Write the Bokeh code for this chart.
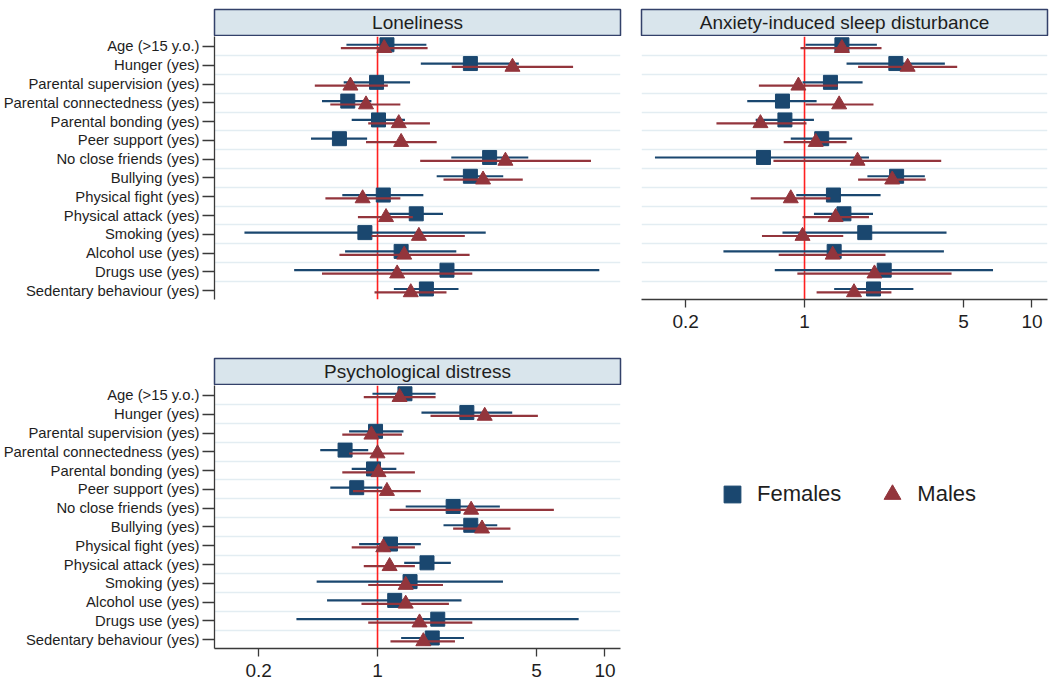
from bokeh.plotting import figure
from bokeh.models import (Range1d, FixedTicker, Span, Label, Legend, LegendItem,
                          ColumnDataSource)
from bokeh.layouts import column, row
from bokeh.embed import file_html
from bokeh.resources import INLINE

# ---------------- data ----------------
FACTORS = ["Age (>15 y.o.)", "Hunger (yes)", "Parental supervision (yes)",
           "Parental connectedness (yes)", "Parental bonding (yes)", "Peer support (yes)",
           "No close friends (yes)", "Bullying (yes)", "Physical fight (yes)",
           "Physical attack (yes)", "Smoking (yes)", "Alcohol use (yes)",
           "Drugs use (yes)", "Sedentary behaviour (yes)"]
SERIES = ["Females", "Males"]
PANELS = ["Loneliness", "Anxiety-induced sleep disturbance", "Psychological distress"]

# Loneliness
lon_f_or = [1.10, 2.56, 0.99, 0.74, 1.01, 0.68, 3.11, 2.56, 1.06, 1.48, 0.88, 1.27, 2.02, 1.64]
lon_f_lo = [0.73, 1.55, 0.71, 0.57, 0.77, 0.51, 2.11, 1.82, 0.70, 1.07, 0.26, 0.72, 0.43, 1.18]
lon_f_hi = [1.64, 4.18, 1.39, 0.94, 1.32, 0.90, 4.60, 3.57, 1.59, 1.94, 2.99, 2.22, 9.44, 2.27]
lon_m_or = [1.07, 3.92, 0.76, 0.89, 1.24, 1.27, 3.65, 2.91, 0.86, 1.09, 1.52, 1.31, 1.22, 1.40]
lon_m_lo = [0.69, 2.12, 0.53, 0.62, 0.91, 0.89, 1.54, 1.95, 0.59, 0.82, 0.94, 0.68, 0.57, 0.97]
lon_m_hi = [1.66, 7.24, 1.11, 1.26, 1.70, 1.82, 8.68, 4.35, 1.26, 1.43, 2.42, 2.54, 2.61, 2.01]

# Anxiety-induced sleep disturbance
anx_f_or = [1.46, 2.52, 1.30, 0.80, 0.82, 1.19, 0.66, 2.54, 1.34, 1.49, 1.84, 1.35, 2.24, 2.01]
anx_f_lo = [1.01, 1.53, 0.98, 0.56, 0.61, 0.87, 0.22, 1.89, 0.92, 1.10, 0.80, 0.44, 0.74, 1.35]
anx_f_hi = [2.08, 4.14, 1.80, 1.13, 1.10, 1.62, 1.92, 3.38, 2.16, 2.00, 4.21, 4.10, 6.74, 3.01]
anx_m_or = [1.46, 2.84, 0.94, 1.42, 0.64, 1.12, 1.71, 2.43, 0.87, 1.37, 0.98, 1.33, 2.03, 1.65]
anx_m_lo = [0.96, 1.72, 0.63, 1.01, 0.41, 0.81, 0.73, 1.72, 0.58, 0.98, 0.65, 0.77, 0.93, 1.13]
anx_m_hi = [2.18, 4.69, 1.40, 2.01, 1.02, 1.53, 3.99, 3.41, 1.30, 1.92, 1.48, 2.27, 4.43, 2.41]

# Psychological distress
psy_f_or = [1.32, 2.47, 0.98, 0.72, 0.96, 0.81, 2.15, 2.57, 1.14, 1.65, 1.39, 1.19, 1.84, 1.74]
psy_f_lo = [0.95, 1.56, 0.75, 0.56, 0.77, 0.62, 1.33, 1.95, 0.83, 1.31, 0.54, 0.60, 0.44, 1.27]
psy_f_hi = [1.80, 3.91, 1.30, 0.91, 1.21, 1.05, 3.45, 3.36, 1.55, 2.10, 3.56, 2.34, 7.66, 2.40]
psy_m_or = [1.25, 2.96, 0.94, 1.00, 1.01, 1.10, 2.58, 2.88, 1.06, 1.13, 1.33, 1.33, 1.53, 1.59]
psy_m_lo = [0.87, 1.71, 0.70, 0.75, 0.70, 0.78, 1.13, 2.15, 0.77, 0.87, 0.91, 0.85, 0.91, 1.14]
psy_m_hi = [1.80, 5.07, 1.28, 1.31, 1.46, 1.55, 5.96, 3.84, 1.46, 1.46, 1.94, 2.06, 2.61, 2.19]

TICK_POS = [0.3, 1.0, 5.0, 10.0]
TICK_LABELS = ["0.2", "1", "5", "10"]

# ---------------- style ----------------
FONT = "Liberation Sans"
NAVY = "#1a476f"
MAROON = "#93353c"
REDLINE = "#ff2020"
GRID = "#e3edf2"
HEAD_FILL = "#d9e5ec"
HEAD_LINE = "#33416a"
AXIS = "#3a3a3a"
TEXT = "#1e1e1e"
XMIN, XMAX = 0.192, 11.7
F_OFF, M_OFF = -0.09, 0.09


def header(title, width, left, right, top):
    h = figure(width=width, height=26 + top + 1, x_range=Range1d(0, 1), y_range=Range1d(0, 1),
               x_axis_type=None, y_axis_type=None, toolbar_location=None,
               output_backend="svg", min_border_left=left, min_border_right=right,
               min_border_top=top, min_border_bottom=1)
    h.background_fill_color = HEAD_FILL
    h.border_fill_color = "white"
    h.outline_line_color = HEAD_LINE
    h.outline_line_width = 1.5
    h.add_layout(Label(x=0.5, y=0.5, text=title, text_align="center",
                       text_baseline="middle", text_font=FONT,
                       text_font_size="19px", text_color=TEXT))
    return h


def panel(data, width, height, left, right, bottom, show_y, show_x):
    f_or, f_lo, f_hi, m_or, m_lo, m_hi = data
    rows = list(range(len(FACTORS)))
    src = ColumnDataSource(dict(
        yf=[r + F_OFF for r in rows], ym=[r + M_OFF for r in rows],
        f=f_or, flo=f_lo, fhi=f_hi, m=m_or, mlo=m_lo, mhi=m_hi))
    p = figure(width=width, height=height, x_axis_type="log",
               x_range=Range1d(XMIN, XMAX),
               y_range=Range1d(len(FACTORS) - 0.53, -0.53),
               toolbar_location=None, output_backend="svg",
               min_border_left=left, min_border_right=right,
               min_border_top=0, min_border_bottom=bottom)
    p.outline_line_color = None
    p.background_fill_color = "white"
    p.border_fill_color = "white"
    p.xgrid.visible = False
    p.ygrid.ticker = FixedTicker(ticks=[r + 0.5 for r in rows[:-1]])
    p.ygrid.grid_line_color = GRID
    p.ygrid.grid_line_width = 1.6

    p.add_layout(Span(location=1, dimension="height", line_color=REDLINE,
                      line_width=1.6, level="underlay"))

    p.segment(x0="flo", y0="yf", x1="fhi", y1="yf", source=src,
              line_color=NAVY, line_width=2.2)
    p.scatter("f", "yf", marker="square", size=14, fill_color=NAVY,
              line_color=NAVY, source=src)
    p.segment(x0="mlo", y0="ym", x1="mhi", y1="ym", source=src,
              line_color=MAROON, line_width=2.2)
    p.scatter("m", "ym", marker="triangle", size=15, fill_color=MAROON,
              line_color=MAROON, source=src)

    # y axis
    ya = p.yaxis[0]
    ya.ticker = FixedTicker(ticks=rows)
    ya.major_label_overrides = {r: lab for r, lab in zip(rows, FACTORS)}
    ya.axis_line_color = AXIS
    ya.axis_line_width = 1.3
    ya.major_tick_line_color = AXIS
    ya.major_tick_line_width = 1.3
    ya.major_tick_out = 12
    ya.major_tick_in = 0
    ya.minor_tick_line_color = None
    ya.major_label_standoff = 3
    ya.major_label_text_font = FONT
    ya.major_label_text_font_size = "14.8px"
    ya.major_label_text_color = TEXT
    ya.visible = show_y

    # x axis
    xa = p.xaxis[0]
    xa.ticker = FixedTicker(ticks=TICK_POS)
    xa.major_label_overrides = {t: lab for t, lab in zip(TICK_POS, TICK_LABELS)}
    xa.axis_line_color = AXIS
    xa.axis_line_width = 1.3
    xa.major_tick_line_color = AXIS
    xa.major_tick_line_width = 1.3
    xa.major_tick_out = 8
    xa.major_tick_in = 0
    xa.minor_tick_line_color = None
    xa.major_label_standoff = 7
    xa.major_label_text_font = FONT
    xa.major_label_text_font_size = "19px"
    xa.major_label_text_color = TEXT
    xa.visible = show_x
    return p


LON = (lon_f_or, lon_f_lo, lon_f_hi, lon_m_or, lon_m_lo, lon_m_hi)
ANX = (anx_f_or, anx_f_lo, anx_f_hi, anx_m_or, anx_m_lo, anx_m_hi)
PSY = (psy_f_or, psy_f_lo, psy_f_hi, psy_m_or, psy_m_lo, psy_m_hi)

# top row: header 36 (box 9..35), panel 321 (frame 36..299)
hA = header(PANELS[0], 628, 213, 8, 9)
pA = panel(LON, 628, 321, 213, 8, 58, True, False)
hB = header(PANELS[1], 422, 13, 3, 9)
pB = panel(ANX, 422, 321, 13, 3, 58, False, True)
# bottom row: header 28 (box 358..384), panel 300 (frame 385..648)
hC = header(PANELS[2], 628, 213, 8, 1)
pC = panel(PSY, 628, 300, 213, 8, 37, True, True)

# legend panel
lf = figure(width=422, height=328, x_range=Range1d(0, 1), y_range=Range1d(0, 1),
            x_axis_type=None, y_axis_type=None, toolbar_location=None,
            output_backend="svg", min_border_left=0, min_border_right=0,
            min_border_top=0, min_border_bottom=0)
lf.outline_line_color = None
rf = lf.scatter([-5], [-5], marker="square", size=14, fill_color=NAVY, line_color=NAVY)
rm = lf.scatter([-5], [-5], marker="triangle", size=15, fill_color=MAROON, line_color=MAROON)
leg = Legend(items=[LegendItem(label=SERIES[0], renderers=[rf]),
                    LegendItem(label=SERIES[1], renderers=[rm])],
             orientation="horizontal", location=(83, 170),
             glyph_width=42, glyph_height=42, label_standoff=4, spacing=30,
             padding=0, margin=0, border_line_alpha=0, background_fill_alpha=0,
             label_text_font=FONT, label_text_font_size="22px",
             label_text_color=TEXT)
lf.add_layout(leg)

layout = column(row(column(hA, pA), column(hB, pB)),
                row(column(hC, pC), lf))

open("out.html", "w").write(file_html(layout, INLINE))
